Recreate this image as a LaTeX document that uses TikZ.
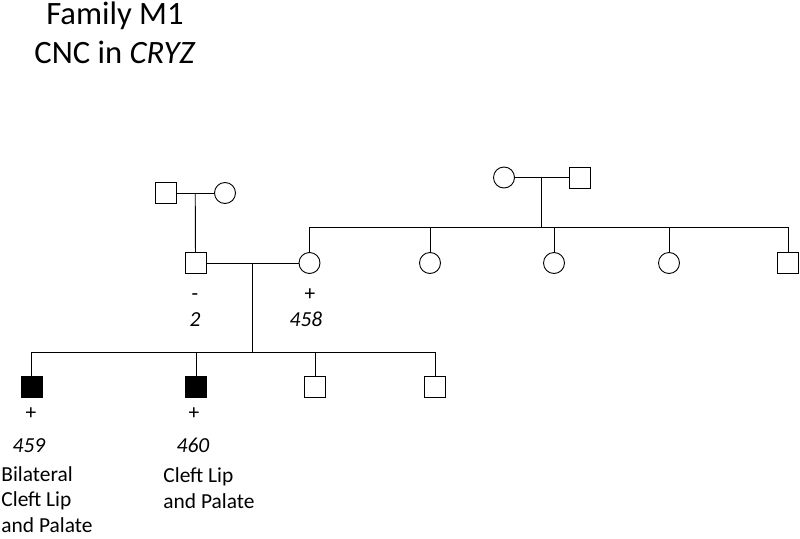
\documentclass[tikz,border=0pt]{standalone}
\usepackage{fontspec}
\setmainfont{Carlito}
\usetikzlibrary{positioning,calc}

\begin{document}
\begin{tikzpicture}[x=1pt,y=-1pt,line width=0.9pt,
  male/.style={draw,minimum size=21pt,inner sep=0pt},
  female/.style={draw,circle,minimum size=21pt,inner sep=0pt},
  affected/.style={fill=black},
  lbl/.style={font=\fontsize{21.4}{26}\selectfont,inner sep=0pt,anchor=base},
  note/.style={font=\fontsize{21.4}{25.5}\selectfont,inner sep=0pt,align=left,anchor=base west}]
  \useasboundingbox (0,0) rectangle (800,538);
  % title
  \node[font=\fontsize{32.6}{39}\selectfont,inner sep=0pt,align=center,anchor=base] (title) at (115,63)
    {Family M1\\CNC in \textit{CRYZ}};
  % grandparents, father's side
  \node[male] (gf1) at (165.5,193) {};
  \node[female] (gm1) at (225,193) {};
  \draw (gf1) -- (gm1);
  \coordinate (m1) at ($(gf1)!0.5!(gm1)$);
  % grandparents, mother's side
  \node[female] (gm2) at (504,177.5) {};
  \node[male] (gf2) at (579.5,177.5) {};
  \draw (gm2) -- (gf2);
  \coordinate (m2) at ($(gm2)!0.5!(gf2)$);
  % parents
  \node[male] (p2) at (195.5,263) {};
  \node[female] (p458) at (309.5,263) {};
  \draw (m1) -- (p2);
  \draw (p2) -- (p458);
  \coordinate (m3) at ($(p2)!0.5!(p458)$);
  % mother's sibship
  \node[female] (a1) at (430,263) {};
  \node[female] (a2) at (554,263) {};
  \node[female] (a3) at (669,263) {};
  \node[male] (a4) at (788,263) {};
  \coordinate (sibL) at (309.5,227);
  \coordinate (sibR) at (788,227);
  \draw (sibL) -- (sibR);
  \draw (m2) -- (m2 |- sibL);
  \foreach \c in {p458,a1,a2,a3,a4}
    \draw (\c) -- (\c |- sibL);
  % children
  \node[male,affected] (c459) at (31.5,387) {};
  \node[male,affected] (c460) at (196,387) {};
  \node[male] (c3) at (315,387) {};
  \node[male] (c4) at (435,387) {};
  \coordinate (kidL) at (31.5,352);
  \coordinate (kidR) at (435,352);
  \draw (kidL) -- (kidR);
  \draw (m3) -- (m3 |- kidL);
  \foreach \c in {c459,c460,c3,c4}
    \draw (\c) -- (\c |- kidL);
  % genotypes and ids
  \node[lbl] (g2) at (195,300) {-};
  \node[lbl] (id2) at (195,326) {\textit{2}};
  \node[lbl] (g458) at (310,300) {+};
  \node[lbl] (id458) at (306,326) {\textit{458}};
  \node[lbl] (g459) at (31,419) {+};
  \node[lbl] (id459) at (29,452) {\textit{459}};
  \node[lbl] (g460) at (194,419) {+};
  \node[lbl] (id460) at (193,452) {\textit{460}};
  % phenotypes
  \node[note] (ph459) at (1,532) {Bilateral\\Cleft Lip\\and Palate};
  \node[note] (ph460) at (163,508) {Cleft Lip\\and Palate};
\end{tikzpicture}
\end{document}
